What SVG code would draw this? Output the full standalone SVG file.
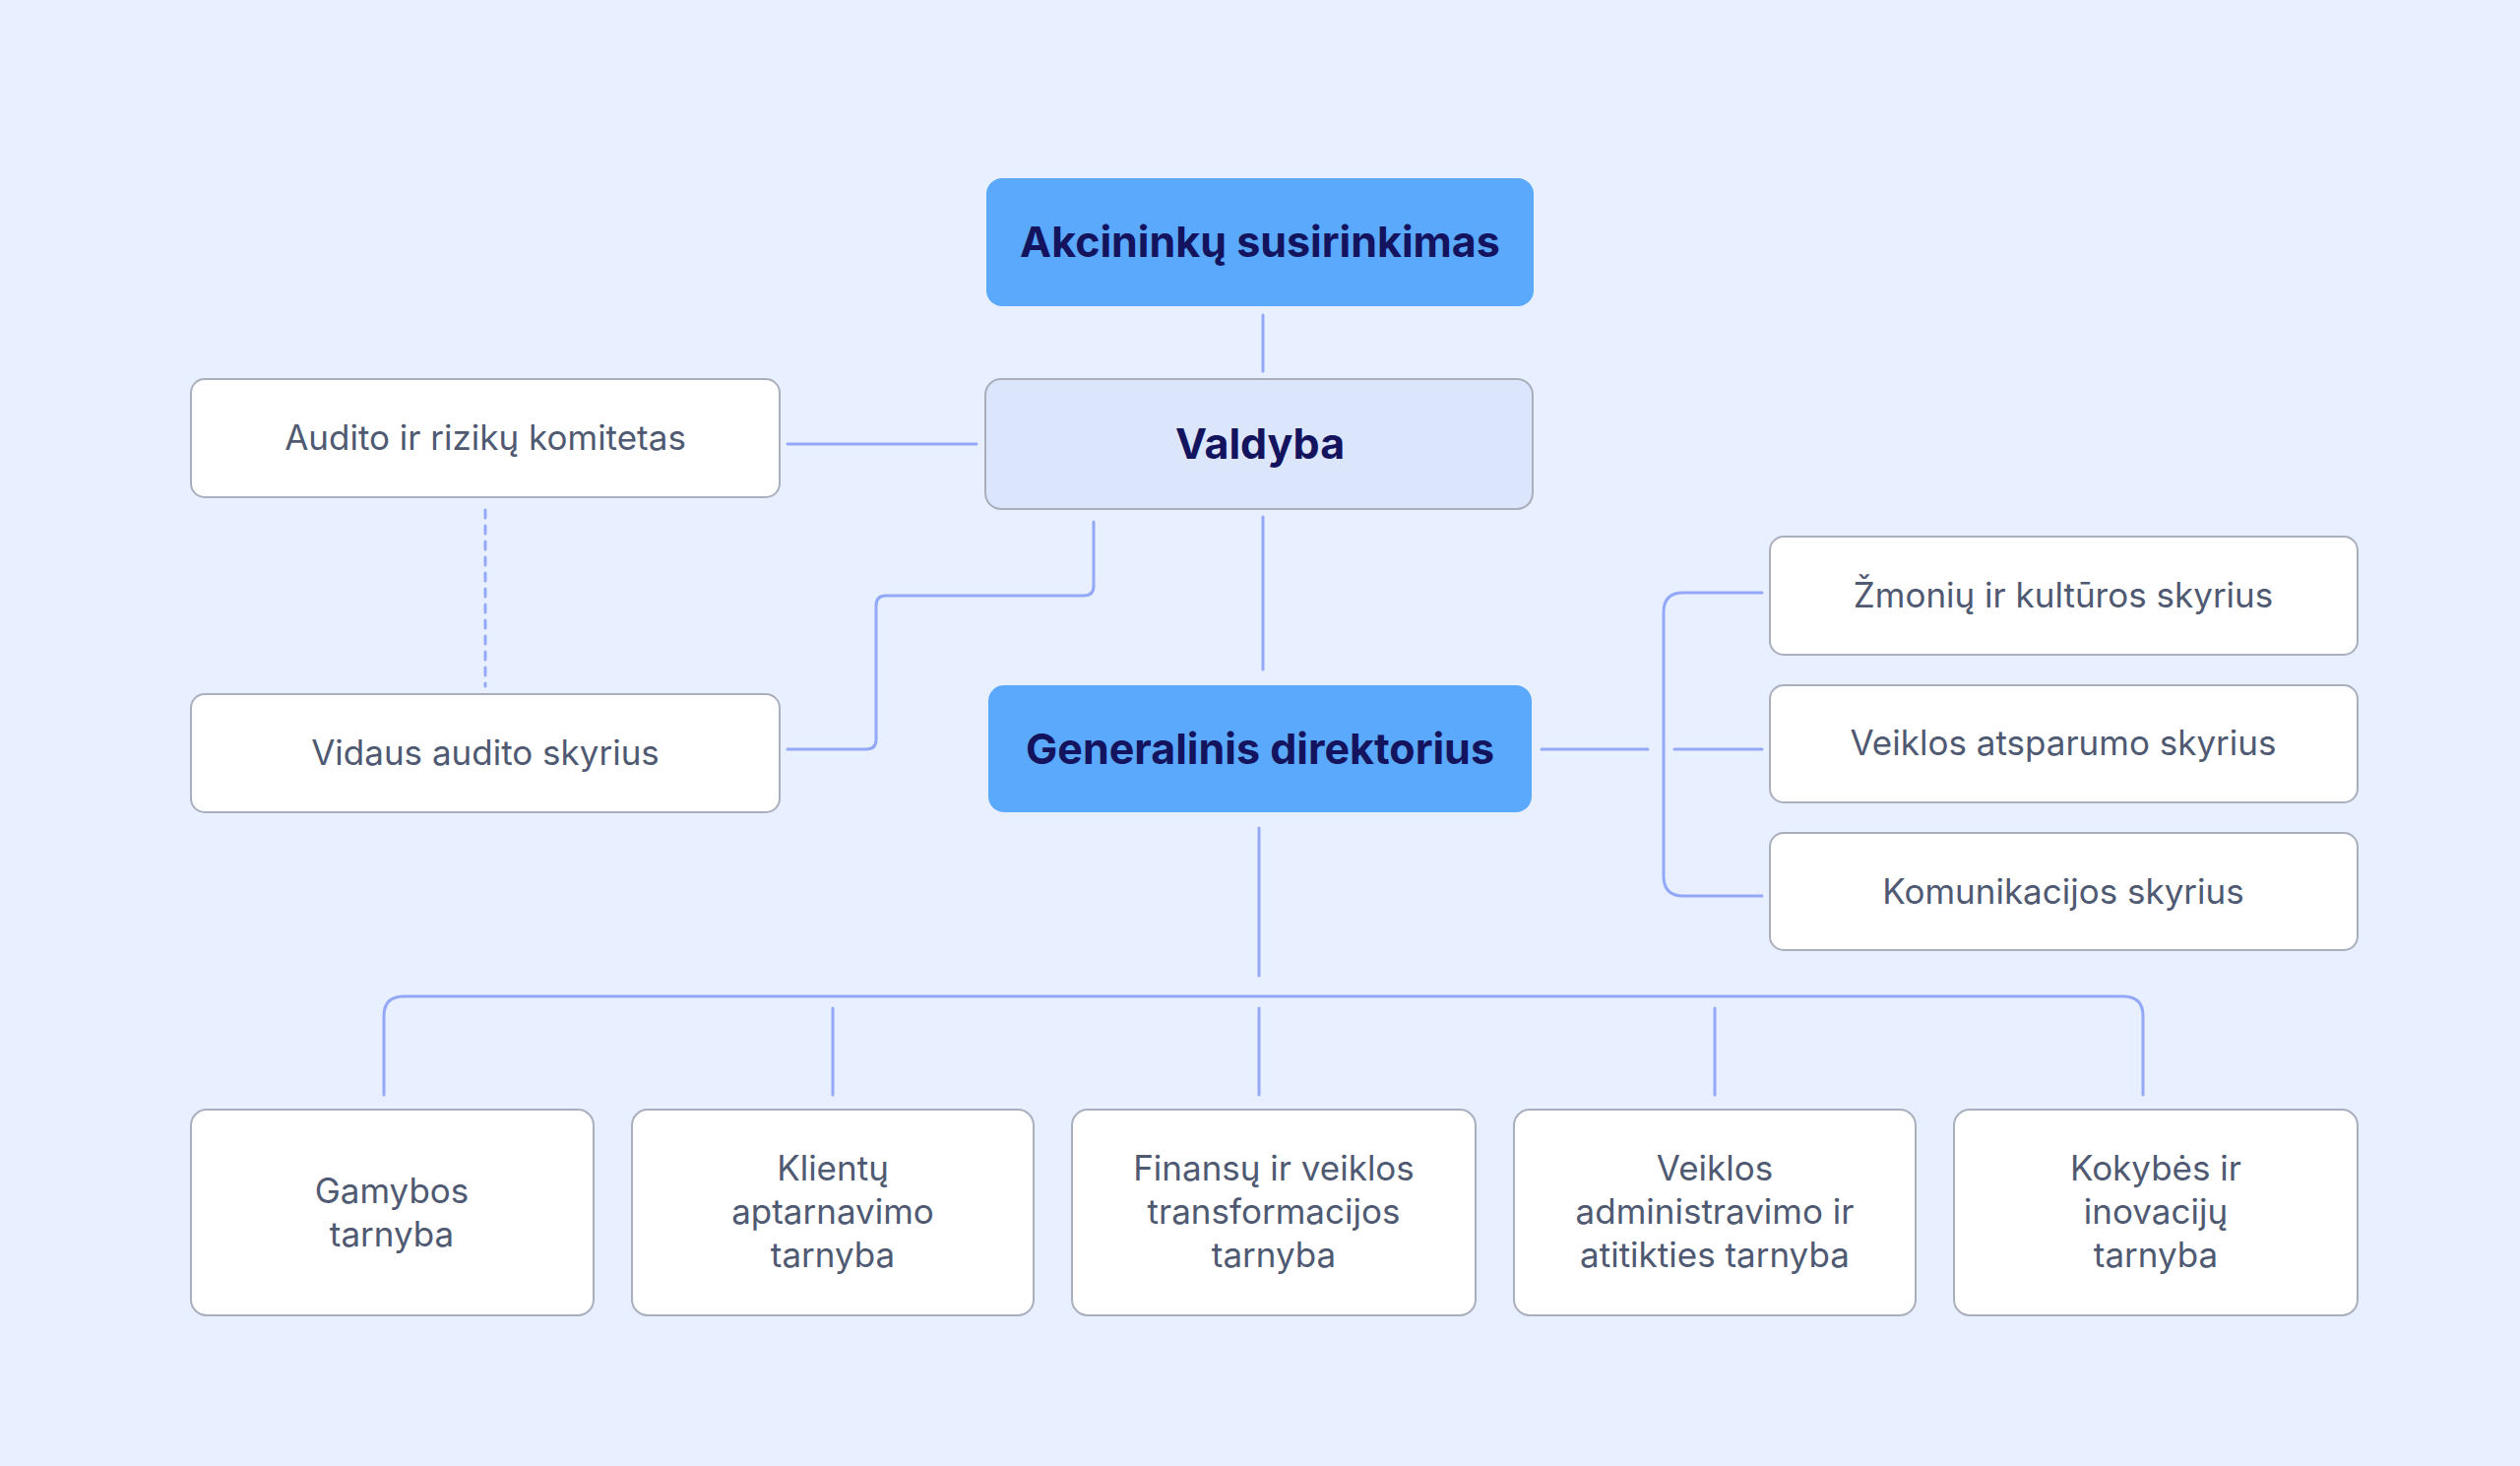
<svg xmlns="http://www.w3.org/2000/svg" width="2560" height="1489" viewBox="0 0 2560 1489">
<style>
.b{fill:#fff;stroke:#a9afbd;stroke-width:2}
.t{font-family:Inter,"Noto Sans",sans-serif;font-size:35px;fill:#4f5a72;text-anchor:middle}
.h{font-family:Inter,"Noto Sans",sans-serif;font-size:43px;font-weight:700;fill:#13135e;text-anchor:middle}
.c{fill:none;stroke:#93a9f8;stroke-width:3;stroke-linecap:round;stroke-linejoin:round}
</style>
<rect width="2560" height="1489" fill="#e8efff"/>
<g id="connectors">
<path class="c" d="M1283 320V377"/>
<path class="c" d="M1283 525V680"/>
<path class="c" d="M800 451H992"/>
<path class="c" d="M493 518V697" stroke-dasharray="8 8"/>
<path class="c" d="M1111 530V595Q1111 605 1101 605H900Q890 605 890 615V751Q890 761 880 761H800"/>
<path class="c" d="M1566 761H1674"/>
<path class="c" d="M1790 602H1710Q1690 602 1690 622V890Q1690 910 1710 910H1790"/>
<path class="c" d="M1701 761H1790"/>
<path class="c" d="M1279 841V991"/>
<path class="c" d="M390 1112V1032Q390 1012 410 1012H2157Q2177 1012 2177 1032V1112"/>
<path class="c" d="M846 1024V1112M1279 1024V1112M1742 1024V1112"/>
</g>
<g id="akcininku"><rect x="1002" y="181" width="556" height="130" rx="16" fill="#5aa9fc"/><text class="h" x="1280" y="261">Akcininkų susirinkimas</text></g>
<g id="valdyba"><rect x="1001" y="385" width="556" height="132" rx="16" fill="#dbe6fd" stroke="#a9afbd" stroke-width="2"/><text class="h" x="1280" y="466">Valdyba</text></g>
<g id="generalinis"><rect x="1004" y="696" width="552" height="129" rx="16" fill="#5aa9fc"/><text class="h" x="1280" y="776">Generalinis direktorius</text></g>
<g id="audito"><rect class="b" x="194" y="385" width="598" height="120" rx="14"/><text class="t" x="493" y="457">Audito ir rizikų komitetas</text></g>
<g id="vidaus"><rect class="b" x="194" y="705" width="598" height="120" rx="14"/><text class="t" x="493" y="777">Vidaus audito skyrius</text></g>
<g id="zmoniu"><rect class="b" x="1798" y="545" width="597" height="120" rx="14"/><text class="t" x="2096" y="617">Žmonių ir kultūros skyrius</text></g>
<g id="atsparumo"><rect class="b" x="1798" y="696" width="597" height="119" rx="14"/><text class="t" x="2096" y="767">Veiklos atsparumo skyrius</text></g>
<g id="komunikacijos"><rect class="b" x="1798" y="846" width="597" height="119" rx="14"/><text class="t" x="2096" y="918">Komunikacijos skyrius</text></g>
<g id="gamybos"><rect class="b" x="194" y="1127" width="409" height="209" rx="16"/><text class="t" x="398" y="1222">Gamybos</text><text class="t" x="398" y="1266">tarnyba</text></g>
<g id="klientu"><rect class="b" x="642" y="1127" width="408" height="209" rx="16"/><text class="t" x="846" y="1199">Klientų</text><text class="t" x="846" y="1243">aptarnavimo</text><text class="t" x="846" y="1287">tarnyba</text></g>
<g id="finansu"><rect class="b" x="1089" y="1127" width="410" height="209" rx="16"/><text class="t" x="1294" y="1199">Finansų ir veiklos</text><text class="t" x="1294" y="1243">transformacijos</text><text class="t" x="1294" y="1287">tarnyba</text></g>
<g id="administravimo"><rect class="b" x="1538" y="1127" width="408" height="209" rx="16"/><text class="t" x="1742" y="1199">Veiklos</text><text class="t" x="1742" y="1243">administravimo ir</text><text class="t" x="1742" y="1287">atitikties tarnyba</text></g>
<g id="kokybes"><rect class="b" x="1985" y="1127" width="410" height="209" rx="16"/><text class="t" x="2190" y="1199">Kokybės ir</text><text class="t" x="2190" y="1243">inovacijų</text><text class="t" x="2190" y="1287">tarnyba</text></g>
</svg>
